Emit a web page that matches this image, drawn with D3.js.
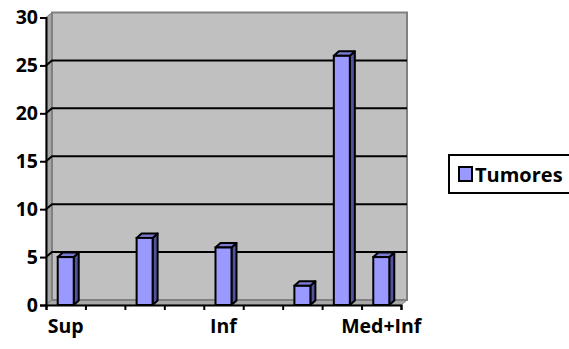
<!DOCTYPE html>
<html>
<head>
<meta charset="utf-8">
<script src="https://cdn.jsdelivr.net/npm/d3@7/dist/d3.min.js"></script>
<style>
  html, body { margin: 0; padding: 0; background: #ffffff; }
  svg { display: block; }
  text { font-family: "Open Sans", "Noto Sans", sans-serif; font-weight: 700; fill: #000; }
</style>
</head>
<body>
<svg id="chart" width="569" height="349"></svg>
<script>
// Category labels (only every fourth one is printed on the axis)
const categoryLabels = ["Sup", "", "", "", "Inf", "", "", "", "Med+Inf"];
// Tumour counts per category
const tumorValues = [5, 0, 7, 0, 6, 0, 2, 26, 5];
const seriesName = "Tumores";
const yTicks = [0, 5, 10, 15, 20, 25, 30];

const svg = d3.select("#chart");

// front plane of the 3D plot
const plotLeft = 46, plotRight = 401, plotBottom = 305, plotTop = 17.5;
// depth offsets: wall and column tops
const wallDx = 6, wallDy = -5;
const barDx = 5, barDy = -4.5;

const y = d3.scaleLinear().domain([0, 30]).range([plotBottom, plotTop]);
const x = d3.scaleBand().domain(d3.range(categoryLabels.length)).range([plotLeft, plotRight]).padding(0);
const xEdge = d3.scaleLinear().domain([0, categoryLabels.length]).range([plotLeft, plotRight]);

const g = svg.append("g");

// left side wall
g.append("path")
  .attr("d", `M${plotLeft},${y(30)}L${plotLeft + wallDx},${y(30) + wallDy}L${plotLeft + wallDx},${plotBottom + wallDy}L${plotLeft},${plotBottom}Z`)
  .attr("fill", "#a5a5a5")
  .attr("stroke", "#7f7f7f").attr("stroke-width", 1);

// floor
g.append("path")
  .attr("d", `M${plotLeft},${plotBottom}L${plotRight},${plotBottom}L${plotRight + wallDx},${plotBottom + wallDy}L${plotLeft + wallDx},${plotBottom + wallDy}Z`)
  .attr("fill", "#a9a9a9")
  .attr("stroke", "#7f7f7f").attr("stroke-width", 1);

// back wall
g.append("rect")
  .attr("x", plotLeft + wallDx).attr("y", y(30) + wallDy)
  .attr("width", plotRight - plotLeft).attr("height", plotBottom - y(30))
  .attr("fill", "#c0c0c0")
  .attr("stroke", "#808080").attr("stroke-width", 2);

// gridlines (run across the side wall and the back wall)
g.append("g").selectAll("path")
  .data(yTicks.filter(v => v > 0 && v < 30))
  .join("path")
  .attr("d", v => `M${plotLeft},${y(v)}L${plotLeft + wallDx},${y(v) + wallDy}L${plotRight + wallDx},${y(v) + wallDy}`)
  .attr("fill", "none")
  .attr("stroke", "#000").attr("stroke-width", 2);

// 3D columns
const bw = 16;
const bars = g.append("g").selectAll("g")
  .data(tumorValues.map((v, i) => ({ v, i })).filter(d => d.v > 0))
  .join("g");

bars.each(function (d) {
  const sel = d3.select(this);
  const x0 = x(d.i) + x.bandwidth() / 2 - bw / 2, x1 = x0 + bw;
  const y0 = y(d.v), y1 = y(0);
  // side face
  sel.append("path")
    .attr("d", `M${x1},${y1}L${x1},${y0}L${x1 + barDx},${y0 + barDy}L${x1 + barDx},${y1 + barDy}Z`)
    .attr("fill", "#52529e").attr("stroke", "#000").attr("stroke-width", 2).attr("stroke-linejoin", "round");
  // top face
  sel.append("path")
    .attr("d", `M${x0},${y0}L${x0 + barDx},${y0 + barDy}L${x1 + barDx},${y0 + barDy}L${x1},${y0}Z`)
    .attr("fill", "#7b7bd6").attr("stroke", "#000").attr("stroke-width", 2).attr("stroke-linejoin", "round");
  // front face
  sel.append("rect")
    .attr("x", x0).attr("y", y0).attr("width", bw).attr("height", y1 - y0)
    .attr("fill", "#9999ff").attr("stroke", "#000").attr("stroke-width", 2);
});

// y axis
const yAxis = g.append("g")
  .attr("transform", `translate(${plotLeft},0)`)
  .call(d3.axisLeft(y).tickValues(yTicks).tickSize(6).tickPadding(2).tickFormat(d3.format("d")));
yAxis.attr("font-family", null).attr("font-size", 19.5);
yAxis.select(".domain").attr("stroke", "#000").attr("stroke-width", 2);
yAxis.selectAll(".tick line").attr("stroke", "#000").attr("stroke-width", 2);

// x axis: tick marks on category boundaries
const xAxis = g.append("g")
  .attr("transform", `translate(0,${plotBottom})`)
  .call(d3.axisBottom(xEdge).tickValues(d3.range(categoryLabels.length + 1)).tickSize(5).tickFormat(""));
xAxis.select(".domain").attr("stroke", "#000").attr("stroke-width", 2);
xAxis.selectAll(".tick line").attr("stroke", "#000").attr("stroke-width", 2);

// x axis: category labels centred in each band
const xLabels = g.append("g")
  .attr("transform", `translate(0,${plotBottom})`)
  .call(d3.axisBottom(x).tickSize(0).tickPadding(14).tickFormat(i => categoryLabels[i]));
xLabels.attr("font-family", null).attr("font-size", 19.5);
xLabels.select(".domain").remove();

// legend
const legend = svg.append("g");
legend.append("rect")
  .attr("x", 449).attr("y", 155).attr("width", 130).attr("height", 38)
  .attr("fill", "#fff").attr("stroke", "#000").attr("stroke-width", 2);
legend.append("rect")
  .attr("x", 459).attr("y", 167).attr("width", 13).attr("height", 14)
  .attr("fill", "#9999ff").attr("stroke", "#000").attr("stroke-width", 2);
legend.append("text")
  .attr("x", 475).attr("y", 182)
  .attr("font-size", 20)
  .text(seriesName);
</script>
</body>
</html>
